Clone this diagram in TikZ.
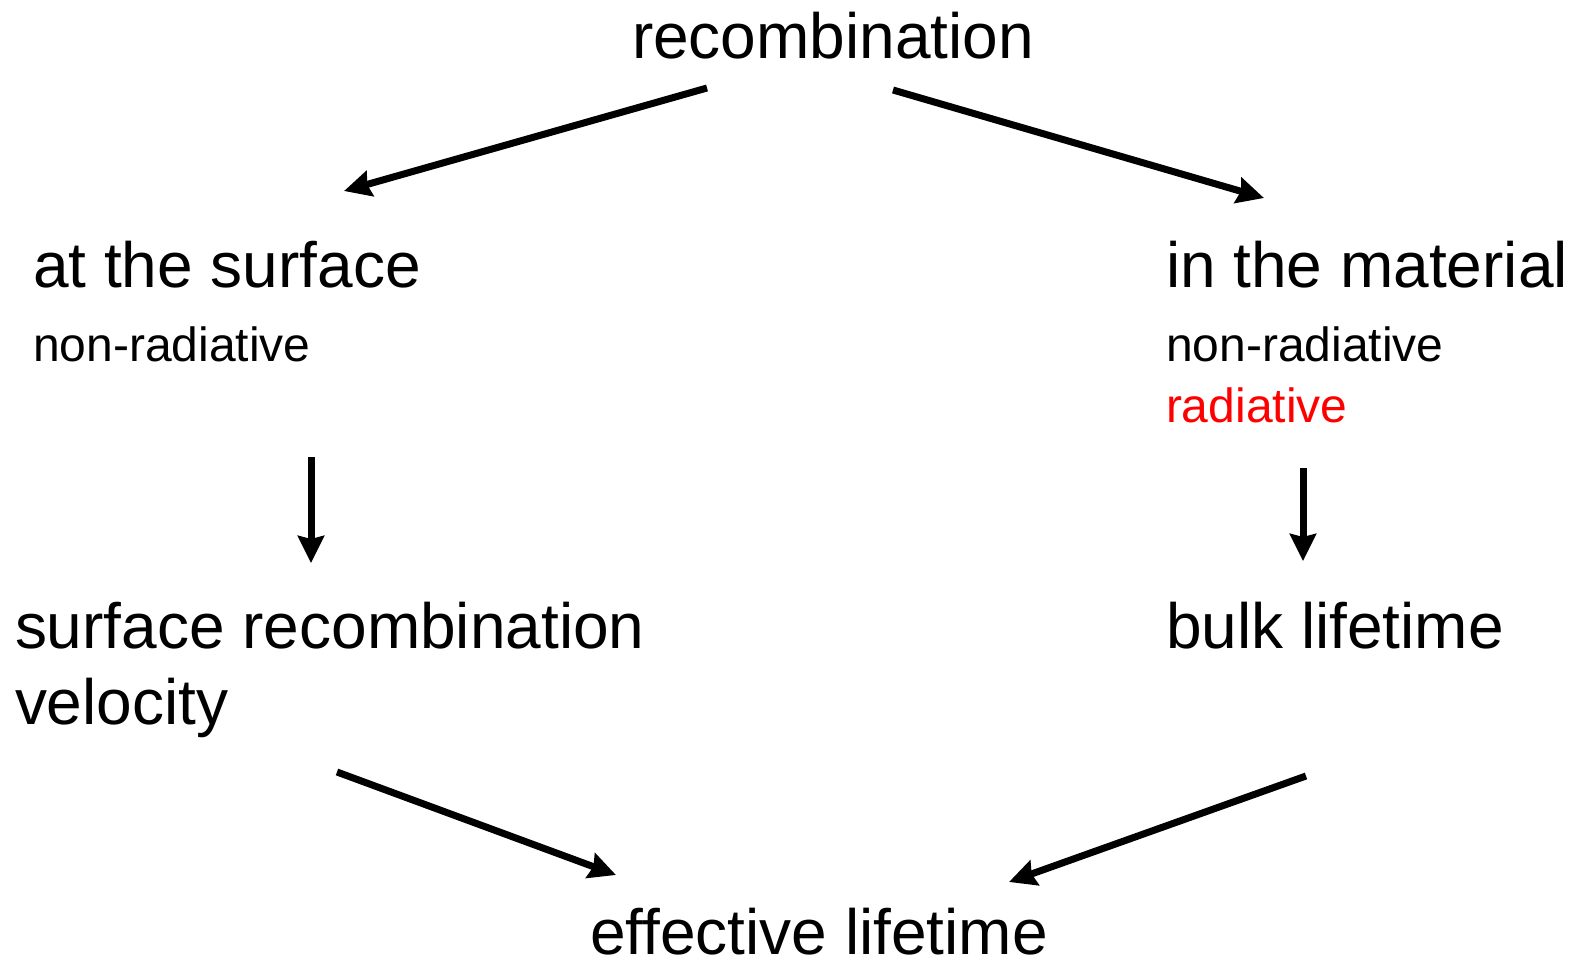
\documentclass[tikz,border=0pt]{standalone}
\usepackage{fontspec}
\setmainfont{Liberation Sans}
\usetikzlibrary{arrows.meta}
\begin{document}
\begin{tikzpicture}[x=1pt,y=-1pt,
  big/.style={inner sep=0pt,outer sep=0pt,font=\fontsize{64}{76}\selectfont,anchor=base west},
  small/.style={inner sep=0pt,outer sep=0pt,font=\fontsize{48}{58}\selectfont,anchor=base west},
  arr/.style={line width=7pt,-{Stealth[length=27pt,width=26pt,inset=3pt]}}]
\useasboundingbox (0,0) rectangle (1577,961);
\node[big,anchor=base] (rec) at (833,58) {recombination};
\node[big] (surf) at (33,287) {at the surface};
\node[small] (surfnr) at (33,361) {non-radiative};
\node[big] (mat) at (1166,287) {in the material};
\node[small] (matnr) at (1166,361) {non-radiative};
\node[small,text=red] (matr) at (1166,422) {radiative};
\node[big] (srv) at (15,648) {surface recombination};
\node[big] (vel) at (15,724) {velocity};
\node[big] (bulk) at (1166,648) {bulk lifetime};
\node[big,anchor=base] (eff) at (819,954) {effective lifetime};
\coordinate (a1s) at (707,88);
\coordinate (a1e) at (344,191);
\coordinate (a2s) at (893,90);
\coordinate (a2e) at (1264,198);
\coordinate (a3s) at (311,457);
\coordinate (a3e) at (311,563);
\coordinate (a4s) at (1303,468);
\coordinate (a4e) at (1303,561);
\coordinate (a5s) at (337,772);
\coordinate (a5e) at (616,875);
\coordinate (a6s) at (1306,776);
\coordinate (a6e) at (1009,882);
\draw[arr] (a1s) -- (a1e);
\draw[arr] (a2s) -- (a2e);
\draw[arr] (a3s) -- (a3e);
\draw[arr] (a4s) -- (a4e);
\draw[arr] (a5s) -- (a5e);
\draw[arr] (a6s) -- (a6e);
\end{tikzpicture}
\end{document}
